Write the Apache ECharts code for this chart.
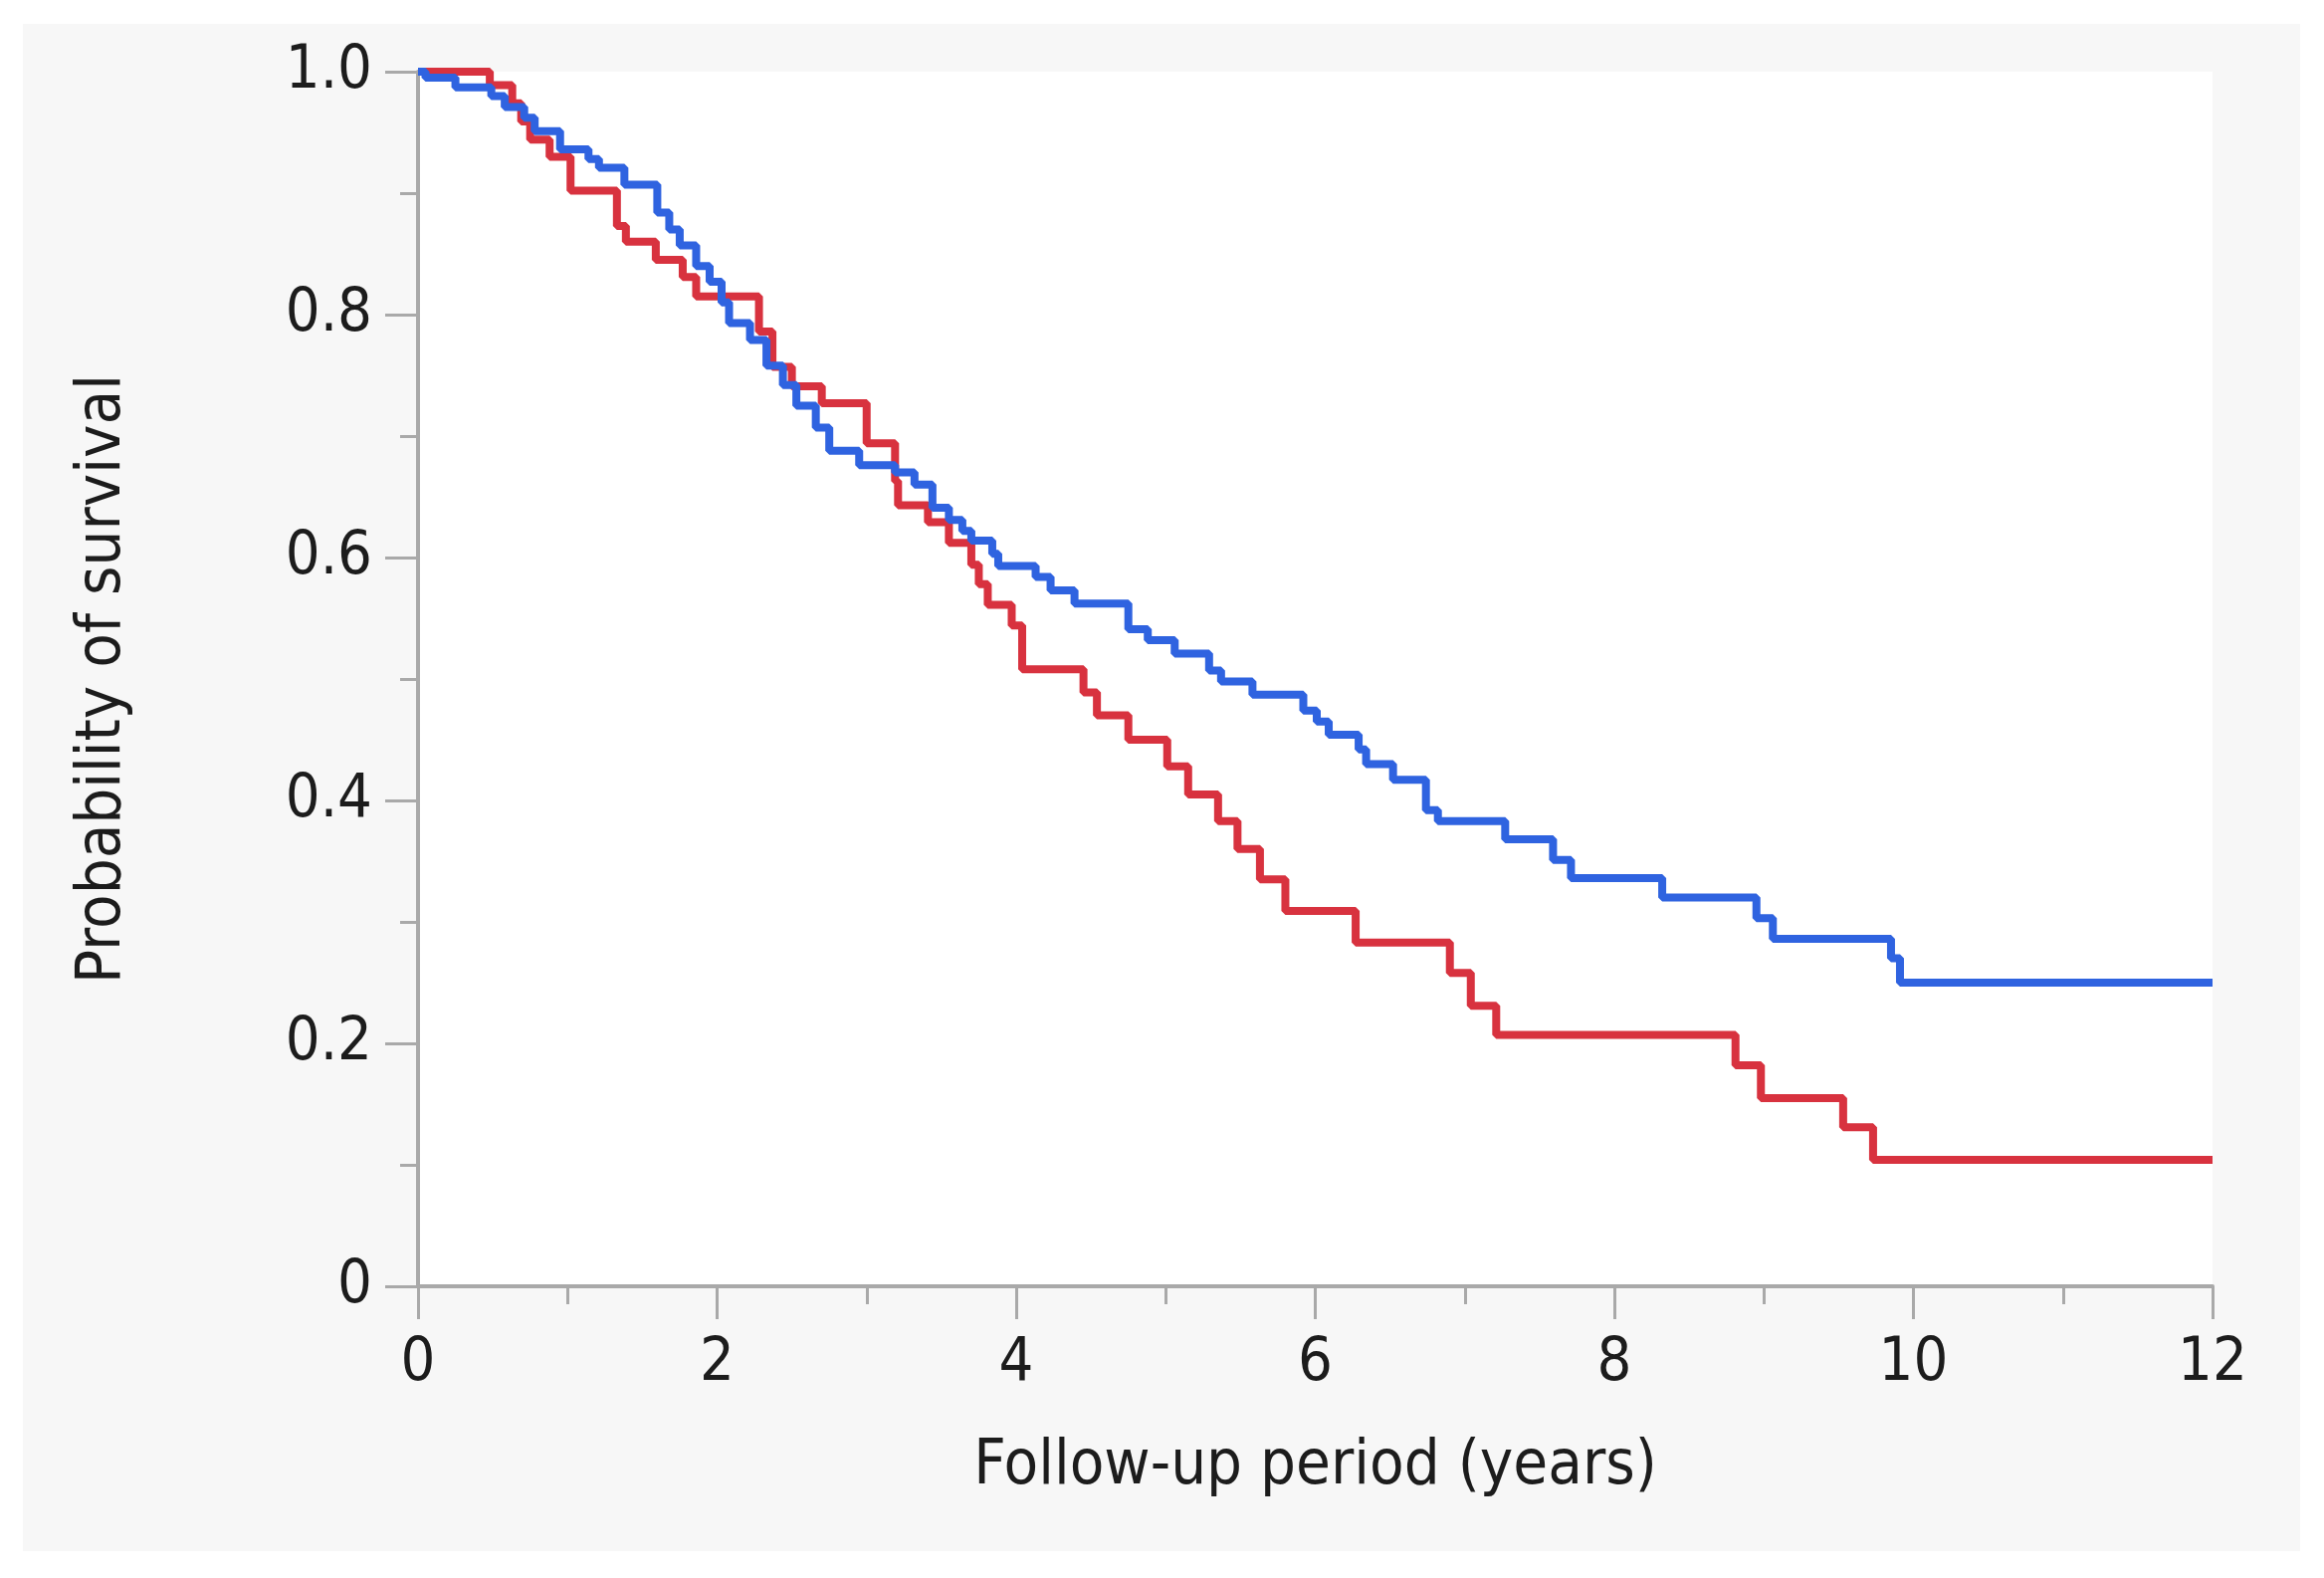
<!DOCTYPE html>
<html>
<head>
<meta charset="utf-8">
<script src="https://cdn.jsdelivr.net/npm/echarts@6/dist/echarts.min.js"></script>
<style>
html,body{margin:0;padding:0;background:#ffffff;}
#frame{position:absolute;left:23px;top:24px;width:2288px;height:1534px;background:#f7f7f7;}
#chart{position:absolute;left:0;top:0;width:2335px;height:1585px;}
</style>
</head>
<body>
<div id="frame"></div>
<div id="chart"></div>
<script>
// Kaplan-Meier step points: [time (years), survival probability]
const redTimes = [0, 0.48, 0.63, 0.69, 0.75, 0.88, 1.02, 1.33, 1.39, 1.59, 1.77, 1.86, 2.28, 2.37, 2.50, 2.70, 3.00, 3.19, 3.21, 3.41, 3.55, 3.70, 3.75, 3.81, 3.97, 4.04, 4.45, 4.54, 4.75, 5.01, 5.15, 5.35, 5.48, 5.63, 5.80, 6.27, 6.90, 7.04, 7.21, 8.81, 8.98, 9.53, 9.73, 12];
const redSurv  = [1.0, 0.989, 0.974, 0.959, 0.944, 0.930, 0.902, 0.873, 0.860, 0.845, 0.831, 0.815, 0.786, 0.757, 0.741, 0.727, 0.694, 0.663, 0.643, 0.629, 0.612, 0.594, 0.578, 0.561, 0.544, 0.508, 0.489, 0.470, 0.450, 0.428, 0.405, 0.383, 0.360, 0.335, 0.309, 0.283, 0.258, 0.231, 0.207, 0.182, 0.155, 0.131, 0.104, 0.104];

const blueTimes = [0, 0.05, 0.25, 0.49, 0.58, 0.71, 0.78, 0.95, 1.14, 1.21, 1.38, 1.60, 1.68, 1.75, 1.86, 1.95, 2.03, 2.08, 2.22, 2.33, 2.44, 2.53, 2.66, 2.75, 2.95, 3.19, 3.32, 3.44, 3.55, 3.64, 3.70, 3.84, 3.88, 4.13, 4.23, 4.39, 4.75, 4.88, 5.06, 5.29, 5.37, 5.58, 5.92, 6.01, 6.09, 6.29, 6.34, 6.52, 6.74, 6.82, 7.27, 7.59, 7.71, 8.32, 8.95, 9.06, 9.85, 9.91, 12];
const blueSurv  = [1.0, 0.995, 0.987, 0.980, 0.971, 0.962, 0.951, 0.936, 0.928, 0.921, 0.907, 0.884, 0.870, 0.857, 0.840, 0.827, 0.810, 0.793, 0.779, 0.758, 0.742, 0.725, 0.707, 0.688, 0.676, 0.670, 0.660, 0.641, 0.631, 0.622, 0.614, 0.603, 0.593, 0.584, 0.573, 0.562, 0.541, 0.532, 0.521, 0.507, 0.498, 0.487, 0.474, 0.465, 0.454, 0.442, 0.430, 0.417, 0.392, 0.383, 0.368, 0.351, 0.336, 0.320, 0.303, 0.286, 0.270, 0.250, 0.250];

const xTicks = [0, 2, 4, 6, 8, 10, 12];
const yTicks = [0, 0.2, 0.4, 0.6, 0.8, 1.0];
const xTitle = 'Follow-up period (years)';
const yTitle = 'Probability of survival';

const zip = (a, b) => a.map((v, i) => [v, b[i]]);

const FONT = '"DejaVu Sans Condensed", "DejaVu Sans", sans-serif';
const AXIS_COLOR = '#a9a9a9';

const chart = echarts.init(document.getElementById('chart'), null, {renderer: 'canvas'});
chart.setOption({
  backgroundColor: 'transparent',
  animation: false,
  grid: {
    left: 420, top: 72, width: 1803, height: 1220,
    show: true, backgroundColor: '#ffffff', borderWidth: 0,
    containLabel: false
  },
  xAxis: {
    type: 'value', min: xTicks[0], max: xTicks[xTicks.length - 1], interval: 2,
    name: xTitle, nameLocation: 'middle', nameGap: 150,
    nameTextStyle: {fontFamily: FONT, fontSize: 63, color: '#1c1c1c'},
    axisLine: {show: true, onZero: false, lineStyle: {color: AXIS_COLOR, width: 4}},
    axisTick: {show: true, inside: false, length: 33, lineStyle: {color: AXIS_COLOR, width: 3}},
    minorTick: {show: true, splitNumber: 2, length: 18, lineStyle: {color: AXIS_COLOR, width: 3}},
    splitLine: {show: false},
    minorSplitLine: {show: false},
    axisLabel: {
      margin: 48, fontFamily: FONT, fontSize: 61, color: '#1c1c1c',
      formatter: v => xTicks.includes(v) ? String(v) : ''
    }
  },
  yAxis: {
    type: 'value', min: yTicks[0], max: yTicks[yTicks.length - 1], interval: 0.2,
    name: yTitle, nameLocation: 'middle', nameGap: 285,
    nameTextStyle: {fontFamily: FONT, fontSize: 63, color: '#1c1c1c'},
    axisLine: {show: true, onZero: false, lineStyle: {color: AXIS_COLOR, width: 4}},
    axisTick: {show: true, inside: false, length: 33, lineStyle: {color: AXIS_COLOR, width: 3}},
    minorTick: {show: true, splitNumber: 2, length: 18, lineStyle: {color: AXIS_COLOR, width: 3}},
    splitLine: {show: false},
    minorSplitLine: {show: false},
    axisLabel: {
      margin: 46, fontFamily: FONT, fontSize: 61, color: '#1c1c1c',
      padding: [0, 0, 14, 0],
      formatter: v => (v === 0 ? '0' : v.toFixed(1))
    }
  },
  series: [
    {
      name: 'Blue group', type: 'line', step: 'end', showSymbol: false, symbol: 'none',
      data: zip(blueTimes, blueSurv),
      lineStyle: {color: '#2f63e0', width: 8}, z: 3
    },
    {
      name: 'Red group', type: 'line', step: 'end', showSymbol: false, symbol: 'none',
      data: zip(redTimes, redSurv),
      lineStyle: {color: '#d8323f', width: 8}, z: 2
    }
  ]
});
</script>
</body>
</html>
